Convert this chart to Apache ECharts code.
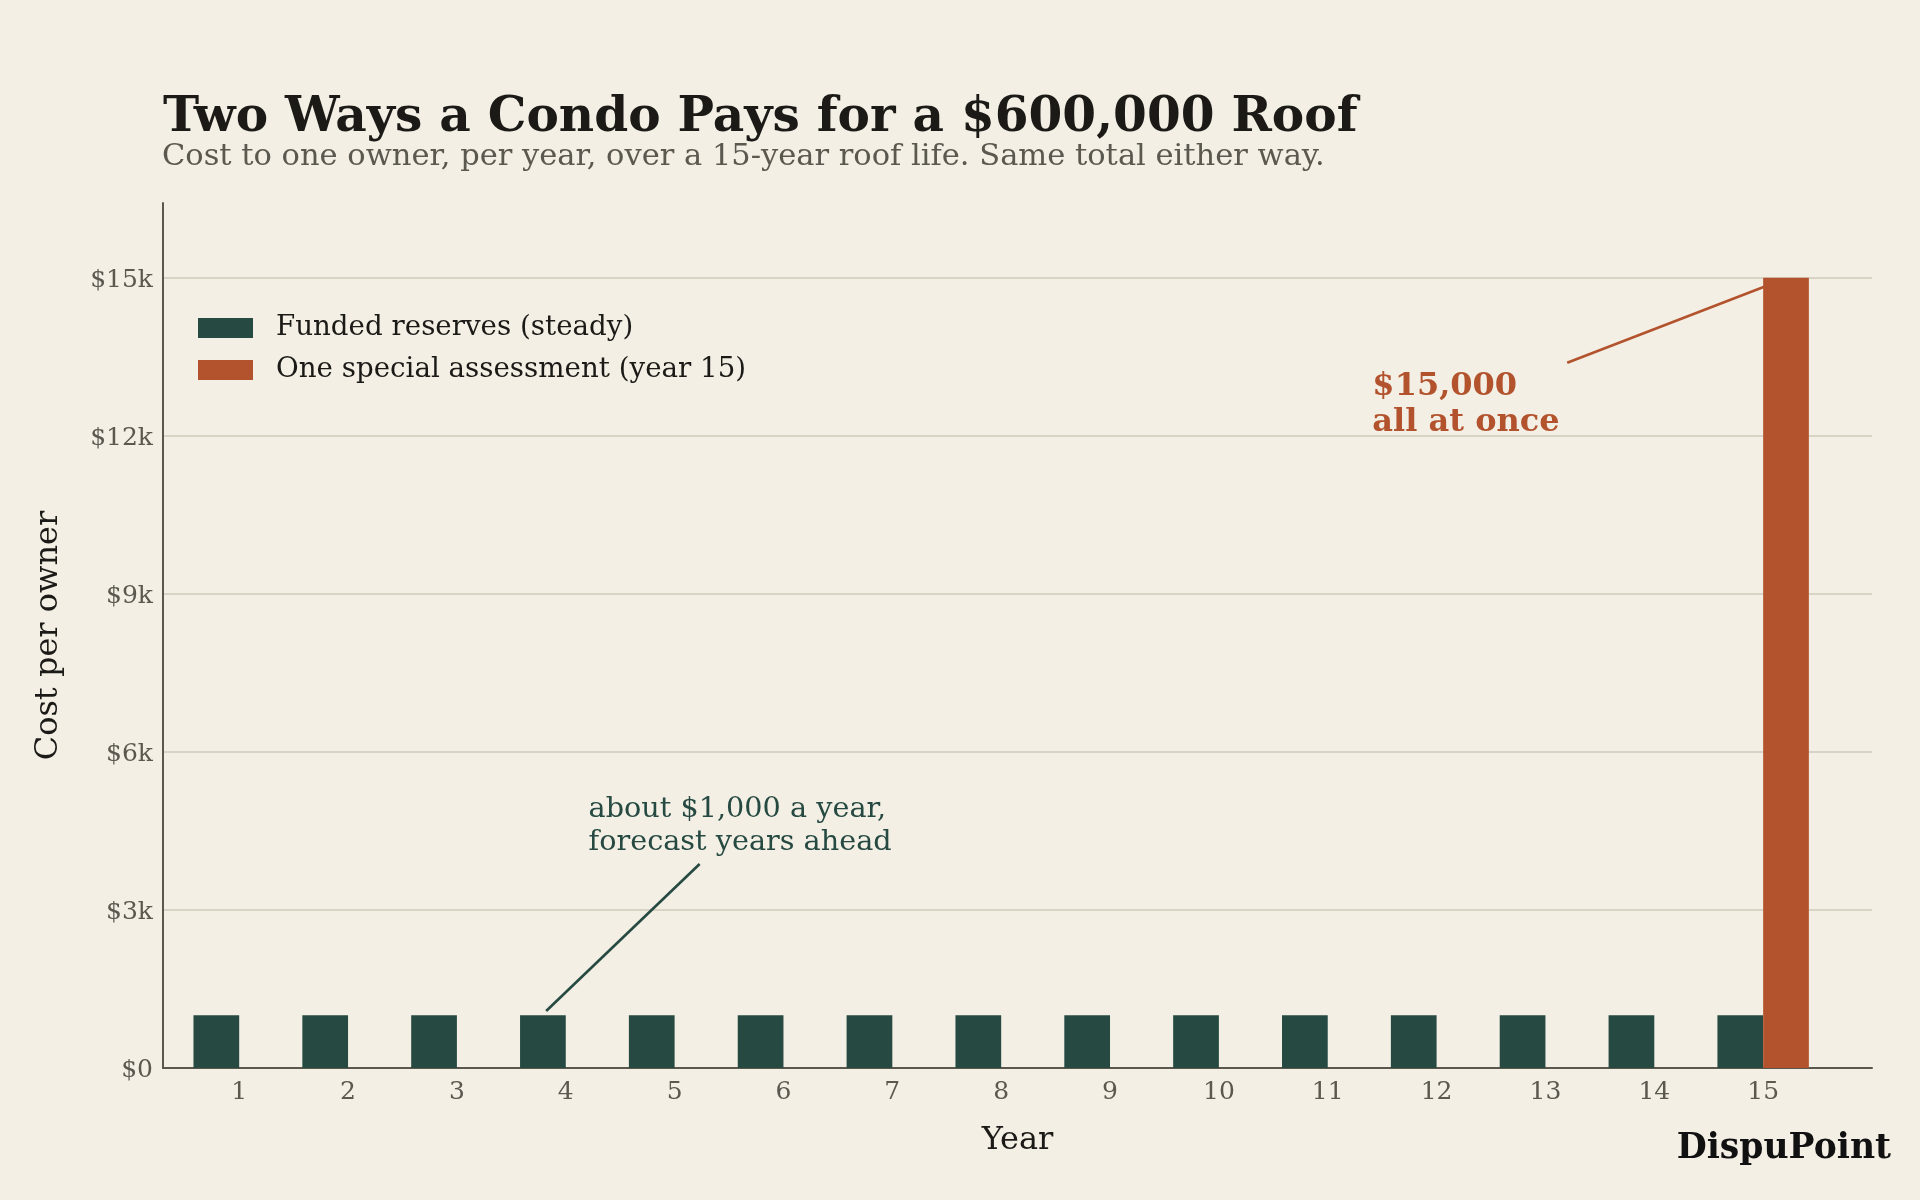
<!DOCTYPE html>
<html>
<head>
<meta charset="utf-8">
<script src="https://cdn.jsdelivr.net/npm/echarts@6/dist/echarts.min.js"></script>
<style>
  html, body { margin: 0; padding: 0; background: #f3efe4; }
  #chart { width: 1920px; height: 1200px; }
</style>
</head>
<body>
<div id="chart"></div>
<script>
// ---- data ----
const years = [1, 2, 3, 4, 5, 6, 7, 8, 9, 10, 11, 12, 13, 14, 15];
const fundedReserves = [1000, 1000, 1000, 1000, 1000, 1000, 1000, 1000, 1000, 1000, 1000, 1000, 1000, 1000, 1000];
const specialAssessment = [0, 0, 0, 0, 0, 0, 0, 0, 0, 0, 0, 0, 0, 0, 15000];
const yTicks = [0, 3000, 6000, 9000, 12000, 15000];
const seriesNames = ['Funded reserves (steady)', 'One special assessment (year 15)'];
const titleText = 'Two Ways a Condo Pays for a $600,000 Roof';
const subtitleText = 'Cost to one owner, per year, over a 15-year roof life. Same total either way.';
// annotations (data coordinates)
const noteGreen = { text: 'about $1,000 a year,\nforecast years ahead', at: [4.21, 5213], from: [3.82, 1082], to: [5.23, 3873] };
const noteOrange = { text: '$15,000\nall at once', at: [11.41, 13282], from: [13.20, 13386], to: [15.01, 14829] };

const FONT = '"DejaVu Serif", serif';
const GREEN = '#264a42';
const ORANGE = '#b3532e';

const chart = echarts.init(document.getElementById('chart'), null, { renderer: 'canvas' });

const option = {
  backgroundColor: '#f3efe4',
  animation: false,
  textStyle: { fontFamily: FONT },
  title: [
    { text: titleText, left: 163, top: 94, padding: 0,
      textStyle: { fontFamily: FONT, fontSize: 48.6, fontWeight: 'bold', color: '#1b1a17' } },
    { text: subtitleText, left: 162, top: 142, padding: 0,
      textStyle: { fontFamily: FONT, fontSize: 30.5, fontWeight: 'normal', color: '#5b5850' } }
  ],
  legend: {
    orient: 'vertical', left: 198, top: 314, itemWidth: 55, itemHeight: 20, itemGap: 14,
    icon: 'rect', padding: 0,
    textStyle: { fontFamily: FONT, fontSize: 27.7, lineHeight: 28, color: '#1b1a17', padding: [0, 0, 0, 18] },
    data: seriesNames
  },
  grid: { left: 163, right: 48, top: 203, bottom: 132, containLabel: false },
  xAxis: {
    type: 'value', min: 0.3, max: 16,
    name: 'Year', nameLocation: 'middle', nameGap: 57,
    nameTextStyle: { fontFamily: FONT, fontSize: 32, color: '#1b1a17' },
    axisLine: { show: true, onZero: false, lineStyle: { color: '#5a574e', width: 2 } },
    axisTick: { show: false },
    splitLine: { show: false },
    axisLabel: { customValues: years, margin: 12, fontFamily: FONT, fontSize: 25, color: '#5b5850',
      formatter: v => String(v) }
  },
  yAxis: {
    type: 'value', min: 0, max: 16420, interval: 3000,
    name: 'Cost per owner', nameLocation: 'middle', nameGap: 98, nameRotate: 90,
    nameTextStyle: { fontFamily: FONT, fontSize: 32, color: '#1b1a17' },
    axisLine: { show: true, lineStyle: { color: '#5a574e', width: 2 } },
    axisTick: { show: false },
    splitLine: { show: true, showMaxLine: false, showMinLine: false, lineStyle: { color: '#d9d3c6', width: 2 } },
    axisLabel: { margin: 10, fontFamily: FONT, fontSize: 25, color: '#5b5850', showMaxLabel: false,
      rich: { t: { fontFamily: FONT, fontSize: 25, color: '#5b5850', padding: [5, 0, 0, 0] } },
      formatter: v => (yTicks.indexOf(v) < 0 ? '' : '{t|' + (v === 0 ? '$0' : '$' + (v / 1000) + 'k') + '}') }
  },
  series: [
    {
      name: seriesNames[0], type: 'bar', barWidth: '42%', barGap: '0%',
      itemStyle: { color: GREEN },
      data: years.map((y, i) => [y, fundedReserves[i]])
    },
    {
      name: seriesNames[1], type: 'bar', barWidth: '42%', barGap: '0%',
      itemStyle: { color: ORANGE },
      data: years.map((y, i) => [y, specialAssessment[i]])
    },
    {
      name: 'note-green', type: 'line', silent: true, showSymbol: false, symbol: 'none',
      lineStyle: { color: GREEN, width: 2.6 }, z: 5,
      data: [noteGreen.from, noteGreen.to]
    },
    {
      name: 'note-orange', type: 'line', silent: true, showSymbol: false, symbol: 'none',
      lineStyle: { color: ORANGE, width: 2.6 }, z: 5,
      data: [noteOrange.from, noteOrange.to]
    }
  ]
};
chart.setOption(option);

const pG = chart.convertToPixel({ gridIndex: 0 }, noteGreen.at);
const pO = chart.convertToPixel({ gridIndex: 0 }, noteOrange.at);
chart.setOption({
  graphic: [
    { type: 'text', x: pG[0], y: pG[1], silent: true,
      style: { text: noteGreen.text, font: '28.7px ' + FONT, fill: GREEN, lineHeight: 33,
        textAlign: 'left', textVerticalAlign: 'top' } },
    { type: 'text', x: pO[0], y: pO[1], silent: true,
      style: { text: noteOrange.text, font: 'bold 32px ' + FONT, fill: ORANGE, lineHeight: 36,
        textAlign: 'left', textVerticalAlign: 'top' } },
    { type: 'text', right: 29, top: 1132, silent: true,
      style: { text: 'DispuPoint', font: 'bold 34.6px ' + FONT, fill: '#111111' } }
  ]
});
</script>
</body>
</html>
